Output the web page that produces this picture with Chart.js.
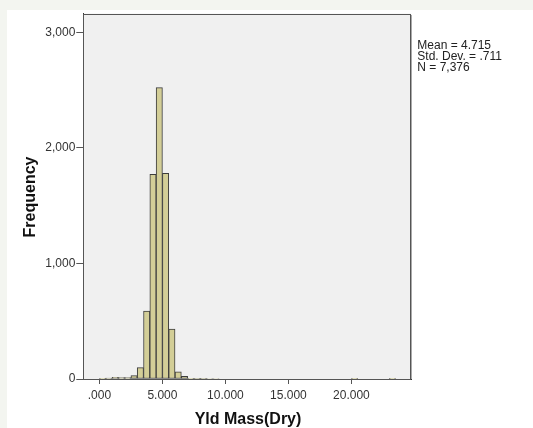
<!DOCTYPE html>
<html>
<head>
<meta charset="utf-8">
<script src="https://cdn.jsdelivr.net/npm/chart.js@4.4.1/dist/chart.umd.min.js"></script>
<style>
  html, body { margin: 0; padding: 0; }
  body { width: 533px; height: 428px; background: #f3f5f0; position: relative; overflow: hidden; }
  #panel { position: absolute; left: 7px; top: 10px; width: 526px; height: 418px; background: #ffffff; }
  #wrap { position: absolute; left: 0; top: 0; width: 533px; height: 428px; }
</style>
</head>
<body>
<div id="panel"></div>
<div id="wrap"><canvas id="c" width="533" height="428"></canvas></div>
<script>
// Histogram bins (bin centres, width 0.5) and frequencies
const binCenters = [0.25, 0.75, 1.25, 1.75, 2.25, 2.75, 3.25, 3.75, 4.25, 4.75, 5.25, 5.75, 6.25, 6.75, 7.25, 7.75, 8.25, 8.75, 9.25, 20.25, 23.25];
const frequencies = [3, 8, 15, 12, 12, 29, 98, 588, 1772, 2522, 1780, 432, 61, 24, 6, 5, 5, 4, 4, 1, 2];

const xTickValues = [0, 5, 10, 15, 20];
const xTickLabels = [".000", "5.000", "10.000", "15.000", "20.000"];
const yTickValues = [0, 1000, 2000, 3000];
const yTickLabels = ["0", "1,000", "2,000", "3,000"];

const xTitle = "Yld Mass(Dry)";
const yTitle = "Frequency";
const statsLines = ["Mean = 4.715", "Std. Dev. = .711", "N = 7,376"];

const FONT = "'Liberation Sans', Arial, sans-serif";

const decor = {
  id: 'decor',
  beforeDraw(chart) {
    const { ctx, chartArea: a } = chart;
    ctx.save();
    ctx.fillStyle = '#f0f0f0';
    ctx.fillRect(a.left, a.top, a.right - a.left, a.bottom - a.top);
    ctx.restore();
  },
  afterDraw(chart) {
    const { ctx, chartArea: a } = chart;
    ctx.save();
    // frame
    ctx.strokeStyle = '#555555';
    ctx.lineWidth = 1;
    ctx.strokeRect(Math.round(a.left) + 0.5, Math.round(a.top) + 0.5, Math.round(a.right - a.left) - 1, Math.round(a.bottom - a.top));
    ctx.strokeStyle = '#aaaaaa';
    ctx.beginPath();
    ctx.moveTo(Math.round(a.right) + 0.5, Math.round(a.top) + 1);
    ctx.lineTo(Math.round(a.right) + 0.5, Math.round(a.bottom));
    ctx.stroke();
    // stats text
    ctx.fillStyle = '#222222';
    ctx.font = "12px " + FONT;
    ctx.textAlign = 'left';
    ctx.textBaseline = 'alphabetic';
    statsLines.forEach((t, i) => ctx.fillText(t, a.right + 6, 49 + i * 10.8));
    // x title
    ctx.fillStyle = '#111111';
    ctx.font = "bold 16px " + FONT;
    ctx.textAlign = 'center';
    ctx.fillText(xTitle, 248, 424);
    // y title
    ctx.translate(34.5, 197);
    ctx.rotate(-Math.PI / 2);
    ctx.fillText(yTitle, 0, 0);
    ctx.restore();
  }
};

new Chart(document.getElementById('c'), {
  type: 'bar',
  data: {
    datasets: [{
      data: binCenters.map((x, i) => ({ x: x, y: frequencies[i] })),
      backgroundColor: '#d3ce97',
      borderColor: '#3c3c3c',
      borderWidth: 1,
      borderSkipped: false,
      barPercentage: 1.0,
      categoryPercentage: 1.0
    }]
  },
  options: {
    responsive: false,
    animation: false,
    events: [],
    layout: { padding: { top: 13.6, right: 121.7, bottom: 0, left: 0 } },
    plugins: { legend: { display: false }, tooltip: { enabled: false }, title: { display: false } },
    scales: {
      x: {
        type: 'linear',
        offset: false,
        min: -1.28,
        max: 24.75,
        afterBuildTicks(s) { s.ticks = xTickValues.map(v => ({ value: v })); },
        afterFit(s) { s.height = 49; },
        ticks: {
          autoSkip: false,
          maxRotation: 0,
          padding: 4,
          color: '#333333',
          font: { family: FONT, size: 12 },
          callback(v) { const i = xTickValues.indexOf(v); return i >= 0 ? xTickLabels[i] : ''; }
        },
        grid: { offset: false, drawOnChartArea: false, drawTicks: true, tickLength: 5, tickColor: '#555555', color: '#555555' },
        border: { display: true, color: '#333333', width: 1 }
      },
      y: {
        min: 0,
        max: 3163,
        afterBuildTicks(s) { s.ticks = yTickValues.map(v => ({ value: v })); },
        afterFit(s) { s.width = 83.3; },
        ticks: {
          autoSkip: false,
          padding: 1,
          color: '#333333',
          font: { family: FONT, size: 12 },
          callback(v) { const i = yTickValues.indexOf(v); return i >= 0 ? yTickLabels[i] : ''; }
        },
        grid: { drawOnChartArea: false, drawTicks: true, tickLength: 7, tickColor: '#555555', color: '#555555' },
        border: { display: true, color: '#333333', width: 1 }
      }
    }
  },
  plugins: [decor]
});
</script>
</body>
</html>
